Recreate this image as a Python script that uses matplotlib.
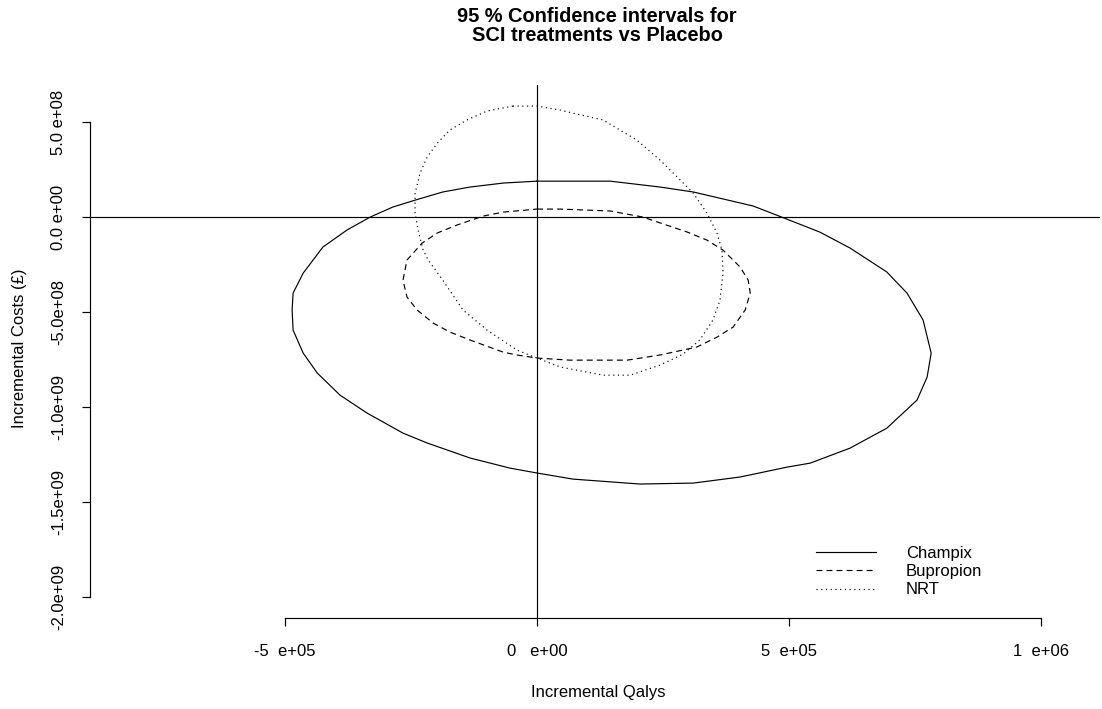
import numpy as np
import matplotlib
matplotlib.use("Agg")
import matplotlib.pyplot as plt

plt.rcParams['font.family'] = ['Liberation Sans', 'DejaVu Sans']

# Confidence region outlines, incremental QALYs (x 1e5) and incremental costs (x 1e8 GBP)
champix_q = np.array([0.00, 0.46, 1.45, 2.44, 3.10, 4.29, 4.90, 5.61, 6.21, 6.94, 7.34, 7.66,
                      7.82, 7.74, 7.54, 7.26, 6.94, 6.21, 5.42, 4.96, 4.03, 3.10, 2.04, 0.71,
                      0.00, -0.54, -1.33, -2.18, -2.66, -3.37, -3.91, -4.36, -4.64, -4.84,
                      -4.86, -4.84, -4.64, -4.25, -3.77, -3.31, -2.86, -2.42, -1.87, -1.33,
                      -0.67, 0.00])
champix_c = np.array([1.89, 1.89, 1.89, 1.58, 1.32, 0.58, -0.05, -0.79, -1.63, -2.89, -4.00,
                      -5.42, -7.16, -8.42, -9.63, -10.32, -11.11, -12.16, -12.95, -13.16,
                      -13.68, -14.00, -14.05, -13.79, -13.47, -13.21, -12.68, -11.89, -11.37,
                      -10.32, -9.37, -8.21, -7.16, -5.95, -4.89, -4.00, -2.95, -1.58, -0.68,
                      0.00, 0.53, 0.89, 1.32, 1.58, 1.79, 1.89])

bupropion_q = np.array([0.00, 0.46, 1.45, 2.10, 2.98, 3.37, 3.69, 4.03, 4.19, 4.23, 4.13, 3.89,
                        3.57, 3.17, 2.44, 1.79, 0.65, 0.00, -0.40, -0.67, -1.33, -1.73, -2.06,
                        -2.38, -2.58, -2.66, -2.58, -2.28, -1.98, -1.59, -1.07, -0.67, 0.00])
bupropion_c = np.array([0.42, 0.42, 0.32, 0.00, -0.79, -1.21, -1.74, -2.63, -3.32, -4.00,
                        -4.89, -5.79, -6.32, -6.84, -7.26, -7.53, -7.53, -7.42, -7.26, -7.11,
                        -6.47, -6.05, -5.58, -4.89, -4.21, -3.32, -2.26, -1.37, -0.84, -0.42,
                        0.05, 0.26, 0.42])

nrt_q = np.array([-0.48, 0.00, 0.46, 0.71, 1.31, 1.98, 2.44, 2.78, 3.10, 3.37, 3.57, 3.67,
                  3.69, 3.63, 3.49, 3.23, 2.90, 2.44, 1.85, 1.31, 0.46, 0.00, -0.40, -0.99,
                  -1.47, -1.87, -2.16, -2.26, -2.36, -2.42, -2.42, -2.32, -2.18, -1.98,
                  -1.73, -1.39, -0.99, -0.48])
nrt_c = np.array([5.84, 5.84, 5.63, 5.47, 5.11, 4.05, 3.00, 2.11, 1.26, 0.21, -0.84, -1.74,
                  -2.95, -4.37, -5.42, -6.47, -7.21, -7.79, -8.32, -8.32, -7.89, -7.42, -7.00,
                  -5.95, -4.89, -3.32, -2.26, -1.74, -0.68, 0.21, 1.26, 2.32, 3.16, 3.89,
                  4.58, 5.11, 5.58, 5.84])

series = ["Champix", "Bupropion", "NRT"]
x_ticks = [-5e5, 0, 5e5, 1e6]
x_labels = ["-5  e+05", "0   e+00", "5  e+05", "1  e+06"]
y_ticks = [5e8, 0, -5e8, -1e9, -1.5e9, -2e9]
y_labels = ["5.0 e+08", "0.0 e+00", "-5.0e+08", "-1.0e+09", "-1.5e+09", "-2.0e+09"]

W, H = 1102, 709
fig = plt.figure(figsize=(W / 100, H / 100), dpi=100)
ax = fig.add_axes([90 / W, (H - 618) / H, 1010 / W, (618 - 85) / H])
ax.set_xlim(-8.87e5, 1.117e6)
ax.set_ylim(-2.11e9, 6.95e8)

lw = 0.85
styles = ["-", (0, (5, 3.5)), (0, (1, 3))]
data = [(champix_q, champix_c), (bupropion_q, bupropion_c), (nrt_q, nrt_c)]
for name, (q, c), ls in zip(series, data, styles):
    ax.plot(q * 1e5, c * 1e8, color="black", lw=lw, linestyle=ls, label=name)

ax.axhline(0, color="black", lw=lw)
ax.axvline(0, color="black", lw=lw)

for side in ["top", "right"]:
    ax.spines[side].set_visible(False)
ax.spines["left"].set_bounds(-2e9, 5e8)
ax.spines["bottom"].set_bounds(-5e5, 1e6)
for side in ["left", "bottom"]:
    ax.spines[side].set_linewidth(lw)

ax.set_xticks(x_ticks, x_labels)
ax.set_yticks(y_ticks, y_labels, rotation=90, va="center")
ax.tick_params(axis="both", direction="out", length=6, width=lw, labelsize=12)
ax.tick_params(axis="x", pad=13)
ax.tick_params(axis="y", pad=11)

fig.text(598 / W, 1 - 692 / H, "Incremental Qalys", ha="center", va="center", fontsize=12)
fig.text(20 / W, 1 - 348 / H, "Incremental Costs (£)", ha="center", va="center",
         rotation=90, fontsize=12)
fig.text(597 / W, 1 - 26 / H, "95 % Confidence intervals for\nSCI treatments vs Placebo",
         ha="center", va="center", fontsize=14.4, fontweight="bold", linespacing=1.05)

ax.legend(loc="upper left", bbox_to_anchor=((816 - 90) / 1010, (618 - 546) / (618 - 85)),
          frameon=False, fontsize=12, handlelength=3.6, handletextpad=1.8,
          labelspacing=0.19, borderaxespad=0, borderpad=0)

fig.savefig("out.png", dpi=100)
